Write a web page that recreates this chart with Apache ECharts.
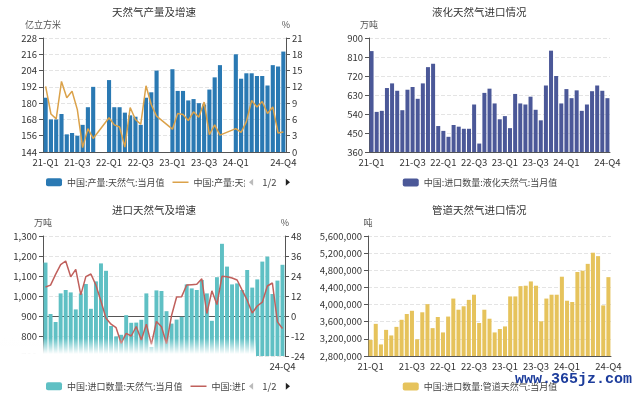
<!DOCTYPE html>
<html>
<head>
<meta charset="utf-8">
<title>天然气</title>
<script src="https://cdn.jsdelivr.net/npm/echarts@6/dist/echarts.min.js"></script>
<style>
html, body { margin: 0; padding: 0; background: #fff; }
.page { position: relative; width: 640px; height: 396px; overflow: hidden; }
.chart__1 { position: absolute; width: 320px; height: 198px; }
#charts_1 { left: 0; top: 0; }
#charts_2 { left: 320px; top: 0; }
#charts_3 { left: 0; top: 198px; }
#charts_4 { left: 320px; top: 198px; }
</style>
</head>
<body>
<section class="page">
  <section id="charts_1" class="chart__1"></section>
  <section id="charts_2" class="chart__1"></section>
  <section id="charts_3" class="chart__1"></section>
  <section id="charts_4" class="chart__1"></section>
</section>
<script>
// 月份（产量 1、2 月无单月值）
var prodMonths = monthList(2021, 3, 46);
var lngMonths = monthList(2021, 1, 47);
var importMonths = monthList(2021, 1, 48);
var pipeMonths = monthList(2021, 1, 47);

// 天然气产量：当月值（亿立方米）
var prodValue = [184, 168, 168, 172, 157, 158, 156, 164, 177, 192,
  null, null, 197, 177, 177, 173, 171, 170, 164, 184, 188, 204,
  null, null, 205, 189, 189, 182, 183, 180, 179, 190, 199, 208,
  null, null, 216, 198, 202, 202, 200, 200, 193, 208, 207, 218];
// 天然气产量：当月同比（%）
var prodYoy = [12.1, 7.0, 6.1, 13.0, 10.0, 11.2, 7.8, 0.8, 4.3, 2.5,
  null, null, 6.3, 5.0, 4.6, 0.9, 8.2, 6.0, 5.1, 12.2, 8.7, 6.6,
  null, null, 4.2, 7.1, 6.9, 5.8, 7.4, 6.4, 9.2, 3.2, 5.0, 3.1,
  null, null, 4.3, 3.6, 5.6, 9.5, 8.3, 9.3, 7.1, 8.3, 3.5, 3.7];

// 液化天然气进口：当月值（万吨）
var lngValue = [838, 550, 555, 663, 685, 650, 558, 655, 668, 612, 685, 762,
  778, 483, 460, 432, 488, 480, 470, 470, 585, 400, 640, 660,
  590, 515, 530, 473, 635, 590, 585, 622, 560, 510, 675, 840,
  720, 590, 658, 615, 652, 555, 585, 648, 675, 650, 615];

// 天然气进口：当月值（万吨）
var importValue = [1167, 910, 870, 1013, 1030, 1018, 933, 1013, 1060, 936, 1073, 1163,
  1126, 850, 798, 806, 904, 866, 867, 881, 1013, 745, 1028, 1025,
  924, 862, 882, 896, 1058, 1038, 1030, 1080, 1013, 876, 1094, 1261,
  1147, 1058, 1063, 1030, 1130, 1042, 1083, 1172, 1197, 1010, 1077, 1156];
// 天然气进口：当月同比（%）
var importYoy = [17.4, 18.5, 25.0, 30.8, 33.0, 23.5, 28.0, 12.7, 23.6, 25.2, 18.5, 8.8,
  -1.3, -4.9, -7.0, -16.4, -10.4, -12.0, -6.3, -14.4, -4.9, -17.0, -3.3, -6.5,
  -16.6, 0.3, 11.4, 11.6, 18.6, 18.8, 19.0, 22.3, 1.5, 15.1, 6.9, 23.8,
  23.6, 22.8, 21.6, 15.5, 9.5, 1.8, 6.0, 8.3, 18.0, 19.8, -3.5, -7.5];

// 管道天然气进口：当月值（吨）
var pipeValue = [3175000, 3550000, 3070000, 3410000, 3280000, 3480000, 3645000, 3780000, 3855000, 3190000,
  3820000, 4010000, 3450000, 3710000, 3350000, 3720000, 4140000, 3880000, 3960000, 4110000,
  4230000, 3570000, 3880000, 3670000, 3350000, 3430000, 3490000, 4190000, 4190000, 4430000,
  4440000, 4540000, 4440000, 3610000, 4140000, 4230000, 4230000, 4650000, 4090000, 4060000,
  4760000, 4790000, 4950000, 5210000, 5130000, 3980000, 4640000];

var FONT = '"Noto Sans CJK SC", "Noto Sans", sans-serif';
var AXIS_COLOR = '#555';
var TEXT_COLOR = '#333';
// 折线图例：只画一条线
var LINE_ICON = 'path://M0,0M16,8M0,3.3L16,3.3L16,4.7L0,4.7Z';

function monthList(year, month, count) {
  var list = [];
  for (var i = 0; i < count; i++) {
    list.push(year + '-' + (month < 10 ? '0' + month : month));
    month++;
    if (month > 12) { month = 1; year++; }
  }
  return list;
}

function quarterName(value) {
  var m = +value.slice(5, 7);
  return value.slice(2, 4) + '-Q' + Math.ceil(m / 3);
}

function thousands(v) {
  return String(v).replace(/\B(?=(\d{3})+(?!\d))/g, ',');
}

// x轴：季度标签隔一个显示，首尾强制显示
function xAxisOf(months) {
  var last = months.length - 1;
  return {
    type: 'category',
    data: months,
    axisLine: { lineStyle: { color: AXIS_COLOR } },
    axisTick: {
      alignWithLabel: true,
      lineStyle: { color: AXIS_COLOR },
      interval: function (idx, v) {
        return idx === 0 || idx === last || (+v.slice(5, 7)) % 3 === 0;
      }
    },
    axisLabel: {
      color: TEXT_COLOR,
      fontSize: 9.5,
      fontFamily: FONT,
      margin: 6,
      formatter: quarterName,
      interval: function (idx, v) {
        if (idx === 0 || idx === last) return true;
        var m = +v.slice(5, 7);
        return (m === 3 || m === 9) && idx > 3 && idx < last - 3;
      }
    }
  };
}

function valueAxis(name, min, max, step, opts) {
  opts = opts || {};
  return {
    type: 'value',
    name: name,
    nameGap: 9,
    nameTextStyle: { color: '#555', fontSize: 9, fontFamily: FONT },
    min: min,
    max: max,
    interval: step,
    position: opts.position || 'left',
    axisLine: { show: true, lineStyle: { color: AXIS_COLOR } },
    axisTick: { show: true, length: 4, lineStyle: { color: AXIS_COLOR } },
    axisLabel: {
      color: TEXT_COLOR,
      fontSize: 9.5,
      fontFamily: FONT,
      margin: 6,
      formatter: opts.formatter || null
    },
    splitLine: {
      show: opts.split !== false,
      lineStyle: { color: '#e4e4e4', type: 'dashed' }
    }
  };
}

function titleOf(text) {
  return {
    text: text,
    left: 107,
    top: 2,
    textStyle: { fontSize: 10.5, fontWeight: 'normal', color: '#333', fontFamily: FONT }
  };
}

function legendOf(scroll, bottom, names) {
  var legend = {
    bottom: bottom,
    padding: 0,
    itemWidth: 16,
    itemHeight: 8,
    itemGap: 8,
    textStyle: { fontSize: 9, color: '#444', fontFamily: FONT }
  };
  if (scroll) {
    legend.type = 'scroll';
    legend.left = 46;
    legend.width = 244;
    legend.data = [names[0], { name: names[1], icon: LINE_ICON }];
    legend.pageIconSize = 7;
    legend.pageButtonGap = 4;
    legend.pageButtonItemGap = 5;
    legend.pageIconColor = '#222';
    legend.pageIconInactiveColor = '#bbb';
    legend.pageTextStyle = { fontSize: 9.5, color: '#444', fontFamily: FONT };
  } else {
    legend.left = 'center';
  }
  return legend;
}

function renderChart1() {
  var chart = echarts.init(document.getElementById('charts_1'));
  var names = ['中国:产量:天然气:当月值', '中国:产量:天然气:当月同比'];
  chart.setOption({
    animation: false,
    title: titleOf('天然气产量及增速'),
    grid: { left: 43, right: 34, top: 38, bottom: 46, outerBoundsMode: 'none' },
    legend: legendOf(true, 11, names),
    xAxis: xAxisOf(prodMonths),
    yAxis: [
      valueAxis('亿立方米', 144, 228, 12),
      valueAxis('%', 0, 21, 3, { position: 'right', split: false })
    ],
    series: [
      {
        name: names[0],
        type: 'bar',
        data: prodValue,
        barCategoryGap: '22%',
        itemStyle: { color: '#2a79b3' }
      },
      {
        name: names[1],
        type: 'line',
        yAxisIndex: 1,
        data: prodYoy,
        symbol: 'none',
        connectNulls: true,
        lineStyle: { width: 1.5, color: '#dba24a' },
        itemStyle: { color: '#dba24a' }
      }
    ]
  });
}

function renderChart2() {
  var chart = echarts.init(document.getElementById('charts_2'));
  chart.setOption({
    animation: false,
    title: titleOf('液化天然气进口情况'),
    grid: { left: 49, right: 30, top: 38, bottom: 46, outerBoundsMode: 'none' },
    legend: legendOf(false, 11),
    xAxis: xAxisOf(lngMonths),
    yAxis: valueAxis('万吨', 360, 900, 90),
    series: [
      {
        name: '中国:进口数量:液化天然气:当月值',
        type: 'bar',
        data: lngValue,
        barCategoryGap: '22%',
        itemStyle: { color: '#4b5898' }
      }
    ]
  });
}

function renderChart3() {
  var chart = echarts.init(document.getElementById('charts_3'));
  var names = ['中国:进口数量:天然气:当月值', '中国:进口数量:天然气:当月同比'];
  chart.setOption({
    animation: false,
    title: titleOf('进口天然气及增速'),
    grid: { left: 43, right: 35, top: 38, bottom: 40, outerBoundsMode: 'none' },
    legend: legendOf(true, 5, names),
    xAxis: xAxisOf(importMonths),
    yAxis: [
      valueAxis('万吨', 700, 1300, 100, { formatter: thousands }),
      valueAxis('%', -24, 48, 12, { position: 'right', split: false })
    ],
    series: [
      {
        name: names[0],
        type: 'bar',
        data: importValue,
        barCategoryGap: '22%',
        itemStyle: { color: '#5fc0c4' }
      },
      {
        name: names[1],
        type: 'line',
        yAxisIndex: 1,
        data: importYoy,
        symbol: 'none',
        lineStyle: { width: 1.5, color: '#c0605c' },
        itemStyle: { color: '#c0605c' }
      }
    ],
    // 图片底部的白色渐隐遮罩
    graphic: [
      {
        type: 'rect',
        left: 0,
        top: 140,
        z: 100,
        shape: { width: 256, height: 40 },
        style: {
          fill: new echarts.graphic.LinearGradient(0, 0, 0, 1, [
            { offset: 0, color: 'rgba(255,255,255,0)' },
            { offset: 0.4, color: 'rgba(255,255,255,1)' },
            { offset: 1, color: 'rgba(255,255,255,1)' }
          ])
        }
      }
    ]
  });
}

function renderChart4() {
  var chart = echarts.init(document.getElementById('charts_4'));
  chart.setOption({
    animation: false,
    title: titleOf('管道天然气进口情况'),
    grid: { left: 48, right: 29, top: 38, bottom: 40, outerBoundsMode: 'none' },
    legend: legendOf(false, 5),
    xAxis: xAxisOf(pipeMonths),
    yAxis: valueAxis('吨', 2800000, 5600000, 400000, { formatter: thousands }),
    series: [
      {
        name: '中国:进口数量:管道天然气:当月值',
        type: 'bar',
        data: pipeValue,
        barCategoryGap: '22%',
        itemStyle: { color: '#e6c35c' }
      }
    ],
    // 水印
    graphic: [
      {
        type: 'text',
        right: 8,
        top: 174,
        z: 100,
        style: {
          text: 'www.365jz.com',
          fill: '#1d3d9c',
          font: 'bold 15px "Liberation Mono", monospace'
        }
      }
    ]
  });
}

renderChart1();
renderChart2();
renderChart3();
renderChart4();
</script>
</body>
</html>
